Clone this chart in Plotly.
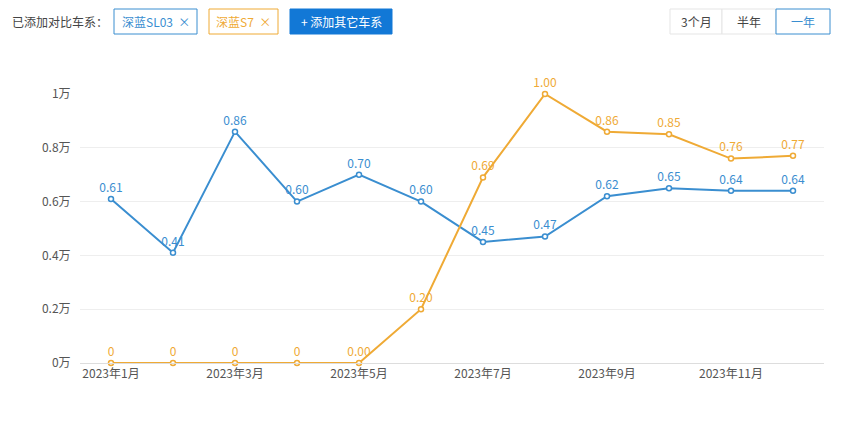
import plotly.graph_objects as go

months = ["2023年%d月" % m for m in range(1, 13)]
sl03 = [0.61, 0.41, 0.86, 0.60, 0.70, 0.60, 0.45, 0.47, 0.62, 0.65, 0.64, 0.64]
s7 = [0, 0, 0, 0, 0.00, 0.20, 0.69, 1.00, 0.86, 0.85, 0.76, 0.77]
s7_text = ["0", "0", "0", "0", "0.00", "0.20", "0.69", "1.00", "0.86", "0.85", "0.76", "0.77"]
y_ticks = [0, 0.2, 0.4, 0.6, 0.8, 1.0]
y_labels = ["0万", "0.2万", "0.4万", "0.6万", "0.8万", "1万"]

BLUE = "#3a8ed0"
ORANGE = "#efaa35"
FONT = "Noto Sans CJK SC"

fig = go.Figure()
for name, ys, txt, col in [("深蓝SL03", sl03, ["%.2f" % v for v in sl03], BLUE),
                           ("深蓝S7", s7, s7_text, ORANGE)]:
    fig.add_trace(go.Scatter(
        x=months, y=ys, mode="lines+markers+text", name=name,
        text=txt, textposition="top center",
        textfont=dict(color=col, size=12, family=FONT),
        line=dict(color=col, width=2),
        marker=dict(size=5, color="white", line=dict(color=col, width=1.5)),
        cliponaxis=False,
    ))

fig.update_layout(
    width=852, height=431, showlegend=False,
    plot_bgcolor="white", paper_bgcolor="white",
    margin=dict(l=72, r=36, t=86, b=76),
    font=dict(family=FONT, size=12, color="#555"),
    xaxis=dict(
        type="category", range=[-0.5, 11.5],
        tickvals=months[::2], ticktext=months[::2],
        showgrid=False, showline=True, linecolor="#ddd",
        ticks="", tickfont=dict(size=12, color="#555"),
    ),
    yaxis=dict(
        range=[0, 1.0], tickvals=y_ticks, ticktext=y_labels,
        showgrid=True, gridcolor="#eee", zeroline=False,
        showline=False, ticks="outside", ticklen=6, tickcolor="white",
        tickfont=dict(size=12, color="#555"),
    ),
)

# header controls (screen coords relative to plot area at x=80, top y=93)
fig.add_annotation(text="已添加对比车系：", xref="paper", yref="paper", x=-70 / 744, y=1 + 73 / 269,
                   xanchor="left", yanchor="middle", showarrow=False, font=dict(size=12, color="#444"))
buttons = [
    (114, 197, "深蓝SL03  ×", BLUE, "white", BLUE),
    (209, 278, "深蓝S7  ×", ORANGE, "white", ORANGE),
    (290, 392, "+ 添加其它车系", "white", "#1278d6", "#1278d6"),
    (670, 722, "3个月", "#444", "white", "#e5e5e5"),
    (722, 776, "半年", "#444", "white", "#e5e5e5"),
    (776, 830, "一年", BLUE, "white", BLUE),
]
for x0, x1, label, tc, fill, border in buttons:
    fig.add_shape(type="rect", xref="paper", yref="paper",
                  x0=(x0 - 80) / 744, x1=(x1 - 80) / 744,
                  y0=1 + (93 - 33) / 269, y1=1 + (93 - 8) / 269,
                  fillcolor=fill, line=dict(color=border, width=1))
    fig.add_annotation(text=label, xref="paper", yref="paper",
                       x=((x0 + x1) / 2 - 80) / 744, y=1 + (93 - 20.5) / 269,
                       xanchor="center", yanchor="middle",
                       showarrow=False, font=dict(size=12, color=tc))

fig.write_html("out.html")
